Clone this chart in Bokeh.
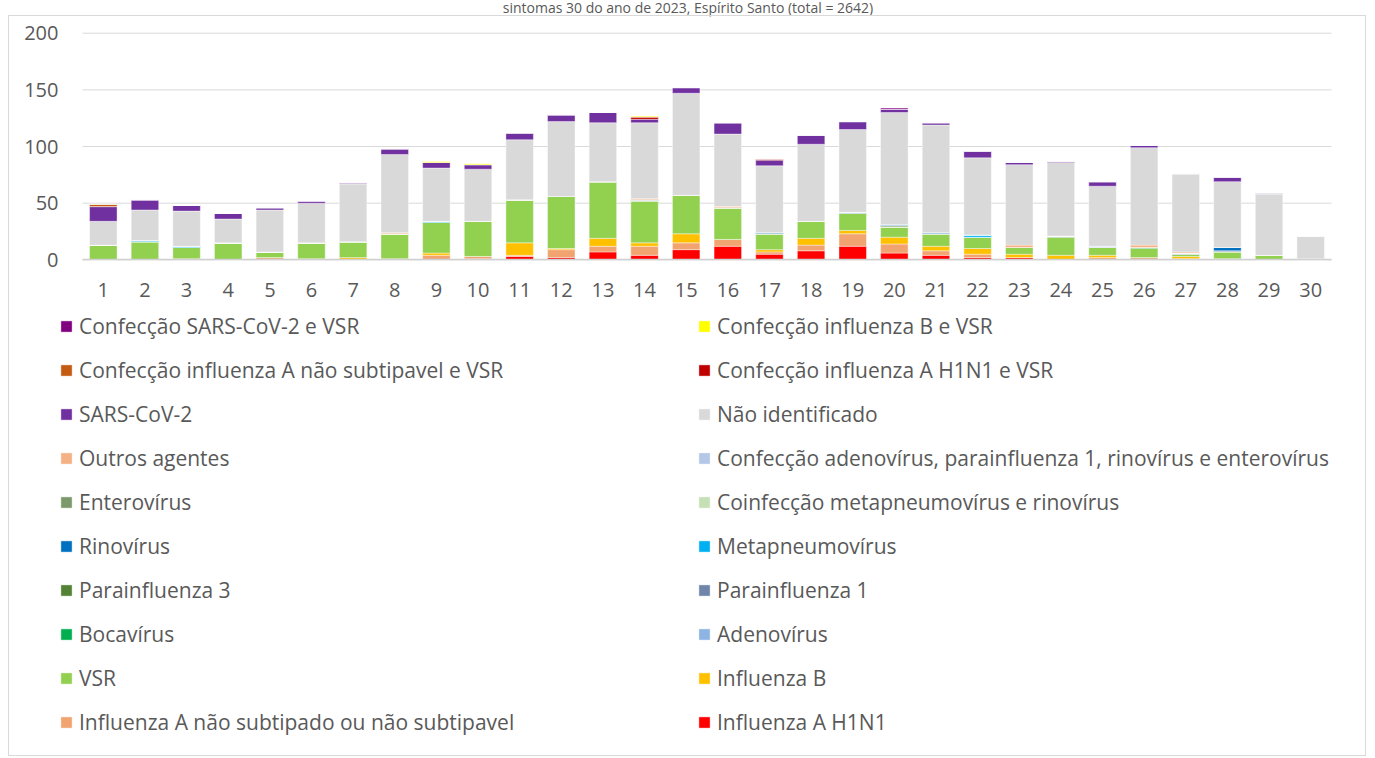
from bokeh.plotting import figure
from bokeh.models import (ColumnDataSource, Range1d, Legend, LegendItem, FixedTicker, Div)
from bokeh.layouts import column
from bokeh.embed import file_html
from bokeh.resources import INLINE

title_text = "sintomas 30 do ano de 2023, Espírito Santo (total = 2642)"

weeks = list(range(1, 31))
y_ticks = [0, 50, 100, 150, 200]

# series, stacked bottom -> top
h1n1 =        [0, 0, 0, 0, 0, 0, 0, 0, 0, 1, 3, 2, 7, 4, 9, 12, 5, 8, 12, 6, 4, 2, 2, 0, 0, 0, 0, 1, 0, 0]
infa_ns =     [0, 0, 0, 0, 2, 0, 0, 0, 4, 2, 1, 7, 5, 8, 6, 6, 2, 5, 11, 8, 4, 3, 0, 0, 2, 2, 1, 0, 0, 0]
infb =        [0, 0, 1, 0, 0, 1, 2, 1, 2, 0, 11, 1, 7, 3, 8, 0, 2, 6, 3, 6, 4, 5, 3, 4, 2, 0, 2, 0, 0, 0]
vsr =         [13, 16, 10, 15, 5, 14, 14, 22, 27, 31, 38, 46, 50, 37, 34, 28, 14, 15, 15, 9, 11, 10, 6, 16, 7, 8, 2, 6, 4, 1]
adeno =       [0, 0, 0, 0, 0, 0, 0, 0, 0, 0, 0, 0, 0, 0, 0, 0, 0, 0, 1, 0, 0, 0, 0, 1, 0, 0, 0, 0, 0, 0]
boca =        [0, 0, 0, 0, 0, 0, 0, 0, 0, 0, 0, 0, 0, 0, 0, 0, 0, 0, 0, 0, 0, 0, 0, 0, 0, 1, 0, 0, 0, 0]
para1 =       [0, 0, 0, 0, 0, 0, 0, 0, 0, 0, 0, 0, 0, 1, 0, 0, 0, 0, 0, 0, 0, 0, 0, 0, 0, 0, 1, 1, 0, 0]
para3 =       [0, 0, 0, 0, 0, 0, 0, 0, 0, 0, 0, 0, 0, 0, 0, 0, 0, 0, 0, 1, 0, 0, 0, 0, 0, 0, 0, 0, 0, 0]
metap =       [0, 1, 1, 0, 0, 0, 0, 0, 1, 0, 0, 0, 0, 0, 0, 0, 0, 0, 0, 0, 0, 2, 0, 0, 0, 0, 0, 0, 0, 0]
rino =        [0, 0, 0, 0, 0, 0, 0, 0, 0, 0, 0, 0, 0, 0, 0, 0, 1, 0, 0, 1, 1, 0, 0, 0, 0, 0, 0, 3, 0, 0]
coinf_mr =    [0] * 30
entero =      [0] * 30
conf_adeno =  [0, 0, 0, 0, 0, 0, 0, 0, 0, 0, 0, 0, 0, 0, 0, 0, 0, 0, 0, 0, 0, 0, 0, 0, 1, 0, 0, 0, 0, 0]
outros =      [0, 0, 0, 0, 0, 0, 0, 1, 0, 0, 0, 0, 0, 1, 0, 1, 0, 0, 0, 0, 0, 0, 2, 0, 0, 2, 1, 0, 0, 0]
nao_ident =   [21, 27, 31, 21, 37, 35, 51, 69, 47, 46, 53, 66, 52, 67, 90, 64, 59, 68, 73, 99, 95, 68, 71, 65, 53, 86, 69, 58, 54, 20]
sars =        [13, 9, 5, 5, 2, 2, 1, 5, 5, 4, 6, 6, 9, 3, 5, 10, 5, 8, 7, 3, 2, 6, 2, 1, 4, 2, 0, 4, 1, 0]
conf_h1_vsr = [0, 0, 0, 0, 0, 0, 0, 0, 0, 0, 0, 0, 0, 2, 0, 0, 1, 0, 0, 0, 0, 0, 0, 0, 0, 0, 0, 0, 0, 0]
conf_ans_vsr =[2, 0, 0, 0, 0, 0, 0, 0, 0, 0, 0, 0, 0, 0, 0, 0, 0, 0, 0, 0, 0, 0, 0, 0, 0, 0, 0, 0, 0, 0]
conf_b_vsr =  [0, 0, 0, 0, 0, 0, 0, 0, 1, 1, 0, 0, 0, 1, 0, 0, 0, 0, 0, 0, 0, 0, 0, 0, 0, 0, 0, 0, 0, 0]
conf_sars_vsr=[0, 0, 0, 0, 0, 0, 0, 0, 0, 0, 0, 0, 0, 0, 0, 0, 0, 0, 0, 1, 0, 0, 0, 0, 0, 0, 0, 0, 0, 0]

series_names = [
    "Influenza A H1N1",
    "Influenza A não subtipado ou não subtipavel",
    "Influenza B",
    "VSR",
    "Adenovírus",
    "Bocavírus",
    "Parainfluenza 1",
    "Parainfluenza 3",
    "Metapneumovírus",
    "Rinovírus",
    "Coinfecção metapneumovírus e rinovírus",
    "Enterovírus",
    "Confecção adenovírus, parainfluenza 1, rinovírus e enterovírus",
    "Outros agentes",
    "Não identificado",
    "SARS-CoV-2",
    "Confecção influenza A H1N1 e VSR",
    "Confecção influenza A não subtipavel e VSR",
    "Confecção influenza B e VSR",
    "Confecção SARS-CoV-2 e VSR",
]
series_values = [h1n1, infa_ns, infb, vsr, adeno, boca, para1, para3, metap, rino,
                 coinf_mr, entero, conf_adeno, outros, nao_ident, sars,
                 conf_h1_vsr, conf_ans_vsr, conf_b_vsr, conf_sars_vsr]
series_colors = ["#FF0000", "#F1A46F", "#FFC000", "#92D050", "#8EB4E3", "#00B050",
                 "#6F86AA", "#548235", "#00B0F0", "#0070C0", "#C5E0B4", "#7B9A6C",
                 "#B4C7E7", "#F4B183", "#D9D9D9", "#7030A0", "#C00000", "#C55A11",
                 "#FFFF00", "#800080"]

keys = ["s%d" % i for i in range(len(series_names))]
data = {"week": weeks}
for k, v in zip(keys, series_values):
    data[k] = v
source = ColumnDataSource(data)

FONT = "Open Sans"
TXT = "#595959"

# frame fills the whole canvas; plot area of the chart is x 0.5..30.5, y 0..200
p = figure(x_range=Range1d(-1.2534, 31.3647), y_range=Range1d(-439.14, 214.74),
           width=1358, height=741, output_backend="svg", toolbar_location=None,
           min_border=0, min_border_left=0, min_border_right=0,
           min_border_top=0, min_border_bottom=0,
           margin=(0, 0, 0, 8))
p.styles = {"border": "1px solid #D9D9D9"}
p.outline_line_color = None
p.xgrid.visible = False
p.ygrid.visible = False

# horizontal gridlines across the category area
p.segment(x0=[0.5] * len(y_ticks), x1=[30.5] * len(y_ticks), y0=y_ticks, y1=y_ticks,
          line_color="#D9D9D9", line_width=1, level="underlay")

renderers = p.vbar_stack(keys, x="week", width=0.66, color=series_colors, source=source,
                         line_color="white", line_width=0.8, line_alpha=0.5)

p.yaxis.fixed_location = 0.5
p.yaxis.ticker = FixedTicker(ticks=y_ticks)
p.yaxis.bounds = (0, 200)
p.yaxis.axis_line_color = None
p.yaxis.major_tick_line_color = None
p.yaxis.minor_tick_line_color = None
p.yaxis.major_tick_out = 0
p.yaxis.minor_tick_out = 0
p.yaxis.major_label_standoff = 24

p.xaxis.fixed_location = 0
p.xaxis.ticker = FixedTicker(ticks=weeks)
p.xaxis.bounds = (0.5, 30.5)
p.xaxis.axis_line_color = "#D0D0D0"
p.xaxis.axis_line_width = 1.5
p.xaxis.major_tick_line_color = None
p.xaxis.minor_tick_line_color = None
p.xaxis.major_tick_out = 0
p.xaxis.minor_tick_out = 0
p.xaxis.major_label_standoff = 23
for ax in (p.xaxis[0], p.yaxis[0]):
    ax.major_label_text_font = FONT
    ax.major_label_text_font_size = "20px"
    ax.major_label_text_color = TXT

items = [LegendItem(label=n, renderers=[r]) for n, r in zip(series_names, renderers)]
rev = items[::-1]
col1 = rev[0::2]
col2 = rev[1::2]

def make_legend(its, loc):
    return Legend(items=its, location=loc, orientation="vertical",
                  glyph_width=14, glyph_height=14, label_standoff=6,
                  padding=0, margin=0, spacing=14, label_height=30,
                  label_text_font=FONT, label_text_font_size="21px",
                  label_text_color=TXT, border_line_alpha=0,
                  background_fill_alpha=0, inactive_fill_alpha=0)

p.add_layout(make_legend(col1, (50, 20)))
p.add_layout(make_legend(col2, (688, 20)))

title = Div(text=title_text, width=1360, height=15, margin=(0, 0, 0, 8),
            styles={"text-align": "center", "font-size": "14px", "line-height": "15px",
                    "color": TXT, "font-family": FONT})

layout = column(title, p, spacing=0)

open("out.html", "w").write(file_html(layout, INLINE))
